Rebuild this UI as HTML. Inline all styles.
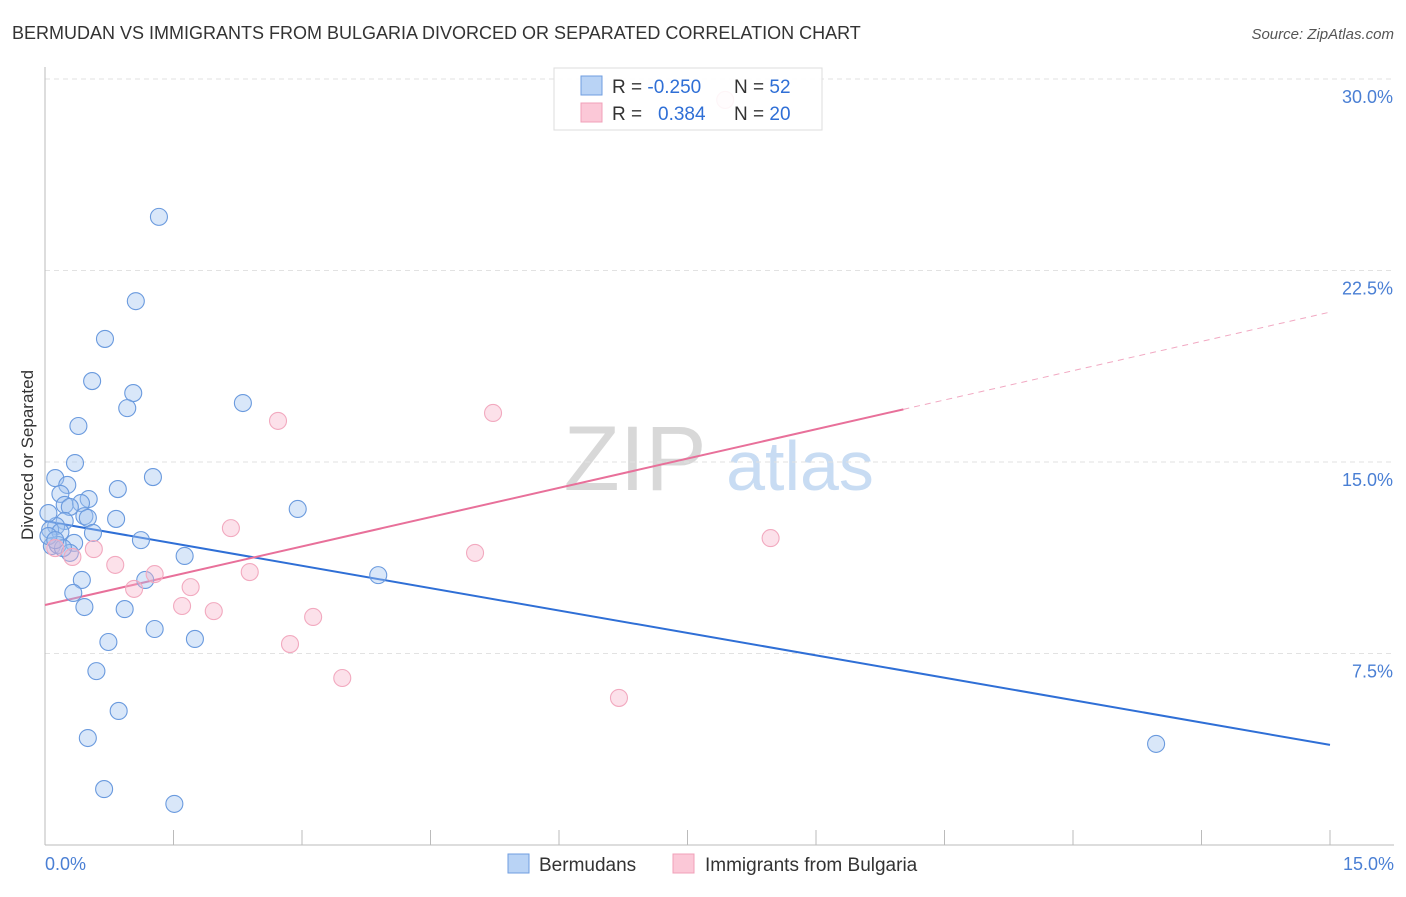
<!DOCTYPE html>
<html><head><meta charset="utf-8"><style>
body{margin:0;background:#fff;font-family:"Liberation Sans",sans-serif;}
svg text{font-family:"Liberation Sans",sans-serif;}
</style></head><body>
<svg id="c" width="1406" height="892" xmlns="http://www.w3.org/2000/svg">
<text x="12" y="39" font-size="18" fill="#333">BERMUDAN VS IMMIGRANTS FROM BULGARIA DIVORCED OR SEPARATED CORRELATION CHART</text>
<text x="1394" y="39" font-size="15" fill="#555" font-style="italic" text-anchor="end">Source: ZipAtlas.com</text>
<text transform="translate(33,455) rotate(-90)" font-size="17" fill="#333" text-anchor="middle">Divorced or Separated</text>
<text x="635" y="490" font-size="92" fill="#d8d8d8" font-family="Liberation Serif" text-anchor="middle">ZIP</text>
<text x="800" y="490" font-size="70" fill="#c8dcf3" text-anchor="middle">atlas</text>
<g id="grid"></g><g id="axes"></g><g id="lines"></g><g id="pts"></g>
<g>
<rect x="554" y="68" width="268" height="62" fill="rgba(255,255,255,0.88)" stroke="#ddd"/>
<rect x="581" y="76" width="21" height="19" fill="#b9d3f5" stroke="#6f9ee0"/>
<rect x="581" y="103" width="21" height="19" fill="#fbc8d7" stroke="#f0a0b8"/>
<text x="612" y="93" font-size="19" fill="#333">R = <tspan fill="#2f6fd6">-0.250</tspan></text>
<text x="734" y="93" font-size="19" fill="#333">N = <tspan fill="#2f6fd6">52</tspan></text>
<text x="612" y="120" font-size="19" fill="#333">R = <tspan fill="#2f6fd6" x="658">0.384</tspan></text>
<text x="734" y="120" font-size="19" fill="#333">N = <tspan fill="#2f6fd6">20</tspan></text>
</g>
<g>
<rect x="508" y="854" width="21" height="19" fill="#b9d3f5" stroke="#6f9ee0"/>
<text x="539" y="871" font-size="19" fill="#333">Bermudans</text>
<rect x="673" y="854" width="21" height="19" fill="#fbc8d7" stroke="#f0a0b8"/>
<text x="705" y="871" font-size="19" fill="#333">Immigrants from Bulgaria</text>
</g>
</svg>
<script>
const yTicks=[7.5,15,22.5,30];
const yTickLabels=["7.5%","15.0%","22.5%","30.0%"];
const xTickLabels=["0.0%","15.0%"];
const blueX=[1.33,1.06,0.70,0.55,1.03,0.96,2.31,0.39,0.35,1.26,0.12,0.26,0.85,0.18,0.51,0.23,0.42,0.29,2.95,0.46,0.83,0.50,0.23,0.13,0.04,0.06,0.56,0.18,1.12,0.34,0.08,0.15,1.63,0.29,0.43,3.89,1.17,0.33,0.46,0.93,1.28,0.74,1.75,0.60,0.86,0.50,0.69,1.51,12.97,0.04,0.21,0.12];
const blueY=[24.60,21.30,19.82,18.17,17.70,17.11,17.31,16.41,14.96,14.41,14.37,14.10,13.94,13.75,13.55,13.32,13.39,13.24,13.16,12.88,12.77,12.81,12.69,12.49,13.00,12.34,12.22,12.26,11.94,11.83,11.71,11.75,11.32,11.44,10.38,10.57,10.38,9.87,9.32,9.24,8.46,7.95,8.07,6.81,5.25,4.19,2.19,1.61,3.96,12.10,11.63,11.94];
const pinkX=[7.94,5.23,2.72,2.17,0.57,5.02,8.47,0.32,0.12,0.82,1.28,2.39,1.70,1.04,1.60,1.97,3.13,2.86,3.47,6.70];
const pinkY=[29.18,16.92,16.61,12.41,11.59,11.44,12.02,11.28,11.63,10.97,10.61,10.69,10.10,10.03,9.36,9.16,8.93,7.87,6.54,5.76];
const blueTrend=[12.69,3.92];
const pinkTrend=[9.40,20.87];
const pinkSolidEnd=10.02;
const NS="http://www.w3.org/2000/svg";
const X=v=>45+v*1285/15, Y=v=>845-v*191.5/7.5;
function mk(p,t,a){const e=document.createElementNS(NS,t);for(const k in a)e.setAttribute(k,a[k]);document.getElementById(p).appendChild(e);return e;}
yTicks.forEach((t,i)=>{
 const l=mk('grid','line',{x1:45,x2:1394,y1:Y(t),y2:Y(t),stroke:'#e2e2e2','stroke-dasharray':'5,4'});
 
 
 const tx=mk('grid','text',{x:1393,y:Y(t)+24,'font-size':18,fill:'#4a7fd4','text-anchor':'end'});tx.textContent=yTickLabels[i];
 
 
});
const ax=mk('axes','line',{x1:45,x2:45,y1:67,y2:845,stroke:'#bbb'});


const bx=mk('axes','line',{x1:45,x2:1394,y1:845,y2:845,stroke:'#bbb'});


for(let i=0;i<=10;i++){const t=mk('axes','line',{x1:X(i*1.5),x2:X(i*1.5),y1:830,y2:845,stroke:'#bbb'});
 
 }
[[0,'start',45],[15,'end',1394]].forEach((d,i)=>{const t=mk('axes','text',{x:d[2],y:870,'font-size':18,fill:'#4a7fd4','text-anchor':d[1]});t.textContent=xTickLabels[i];
 
 });
const bl=mk('lines','line',{x1:X(0),y1:Y(blueTrend[0]),x2:X(15),y2:Y(blueTrend[1]),stroke:'#2f6fd6','stroke-width':2});


const py=v=>pinkTrend[0]+(pinkTrend[1]-pinkTrend[0])*v/15;
const pl=mk('lines','line',{x1:X(0),y1:Y(py(0)),x2:X(pinkSolidEnd),y2:Y(py(pinkSolidEnd)),stroke:'#e8709a','stroke-width':2});


const pd=mk('lines','line',{x1:X(pinkSolidEnd),y1:Y(py(pinkSolidEnd)),x2:X(15),y2:Y(py(15)),stroke:'#e8709a','stroke-width':1,'stroke-dasharray':'6,5','opacity':0.6});


blueX.forEach((x,i)=>{const c=mk('pts','circle',{cx:X(x),cy:Y(blueY[i]),r:8.5,fill:'rgba(160,196,240,0.4)',stroke:'#6a9ade','stroke-width':1.1});
 
 });
pinkX.forEach((x,i)=>{const c=mk('pts','circle',{cx:X(x),cy:Y(pinkY[i]),r:8.5,fill:'rgba(248,180,202,0.4)',stroke:'#f2a9bf','stroke-width':1.1});
 
 });
</script>
</body></html>
